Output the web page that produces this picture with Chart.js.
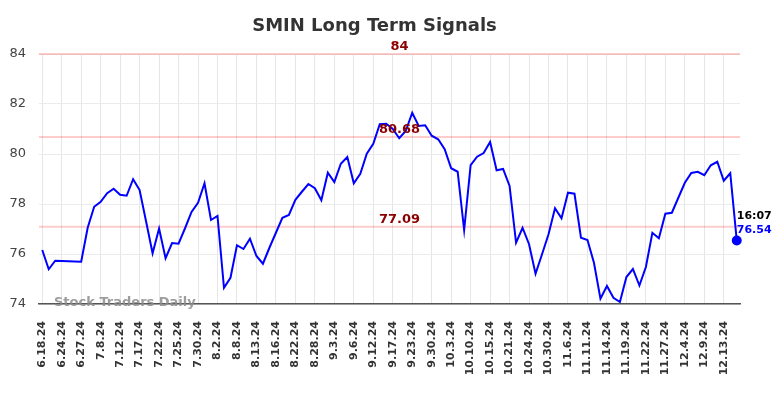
<!DOCTYPE html>
<html>
<head>
<meta charset="utf-8">
<title>SMIN Long Term Signals</title>
<script src="https://cdn.jsdelivr.net/npm/chart.js"></script>
<style>
body { margin: 0; background: #ffffff; }
#chart-wrap { width: 784px; height: 398px; position: relative; }
</style>
</head>
<body>
<div id="chart-wrap"><canvas id="signals-chart"></canvas></div>
<script>
// SMIN long term signals - daily closes with signal levels

const tickLabels = [
    '6.18.24', '6.24.24', '6.27.24', '7.8.24', '7.12.24', '7.17.24', '7.22.24', '7.25.24', '7.30.24',
    '8.2.24', '8.8.24', '8.13.24', '8.16.24', '8.22.24', '8.28.24', '9.3.24', '9.6.24', '9.12.24',
    '9.17.24', '9.23.24', '9.30.24', '10.3.24', '10.10.24', '10.15.24', '10.21.24', '10.24.24', '10.30.24',
    '11.6.24', '11.11.24', '11.14.24', '11.19.24', '11.22.24', '11.27.24', '12.4.24', '12.9.24', '12.13.24'
];

const closes = [
    76.16, 75.39, 75.73, 75.72, 75.71, 75.70, 75.69, 77.05, 77.89, 78.09,
    78.43, 78.61, 78.37, 78.33, 78.99, 78.56, 77.30, 76.03, 77.02, 75.83,
    76.44, 76.41, 77.03, 77.68, 78.05, 78.83, 77.36, 77.52, 74.65, 75.05,
    76.35, 76.20, 76.61, 75.92, 75.61, 76.25, 76.85, 77.45, 77.56, 78.17,
    78.49, 78.80, 78.63, 78.15, 79.25, 78.88, 79.61, 79.88, 78.83, 79.21,
    80.01, 80.41, 81.19, 81.21, 81.00, 80.63, 80.92, 81.65, 81.12, 81.15,
    80.73, 80.59, 80.19, 79.43, 79.29, 76.96, 79.55, 79.89, 80.04, 80.48,
    79.35, 79.40, 78.72, 76.45, 77.05, 76.39, 75.21, 75.99, 76.79, 77.83,
    77.43, 78.45, 78.41, 76.65, 76.56, 75.65, 74.21, 74.72, 74.25, 74.08,
    75.08, 75.40, 74.74, 75.48, 76.85, 76.63, 77.61, 77.65, 78.25, 78.85,
    79.24, 79.29, 79.15, 79.55, 79.69, 78.93, 79.23, 76.54
];

const signalLevels = [84, 80.68, 77.09];
const lastTime = '16:07';

// every third day gets a date label
const labels = closes.map((_, i) => (i % 3 === 0 ? tickLabels[i / 3] : ''));
const lastIndex = closes.length - 1;

Chart.defaults.font.family = "'DejaVu Sans', sans-serif";

const signalsPlugin = {
    id: 'signals',
    beforeDatasetsDraw(chart) {
        const { ctx, chartArea, scales } = chart;
        ctx.save();
        ctx.strokeStyle = 'rgba(255, 0, 0, 0.2)';
        ctx.lineWidth = 2;
        signalLevels.forEach(level => {
            const py = scales.y.getPixelForValue(level);
            ctx.beginPath();
            ctx.moveTo(chartArea.left, py);
            ctx.lineTo(chartArea.right, py);
            ctx.stroke();
        });
        ctx.restore();
    },
    afterDatasetsDraw(chart) {
        const { ctx, chartArea, scales } = chart;
        const midX = (chartArea.left + chartArea.right) / 2;
        ctx.save();

        // level labels
        ctx.font = "bold 13px 'DejaVu Sans'";
        ctx.fillStyle = '#8b0000';
        ctx.textAlign = 'center';
        ctx.textBaseline = 'middle';
        signalLevels.forEach(level => {
            ctx.fillText(String(level), midX + 10, scales.y.getPixelForValue(level) - 7.5);
        });

        // last price annotation
        const px = scales.x.getPixelForValue(lastIndex);
        const py = scales.y.getPixelForValue(closes[lastIndex]);
        ctx.font = "bold 11px 'DejaVu Sans'";
        ctx.textAlign = 'left';
        ctx.fillStyle = '#000000';
        ctx.fillText(lastTime, px, py - 24);
        ctx.fillStyle = '#0000ff';
        ctx.fillText(closes[lastIndex].toFixed(2), px, py - 10);

        // watermark
        ctx.font = "bold 13px 'DejaVu Sans'";
        ctx.fillStyle = 'rgba(140, 140, 140, 0.85)';
        ctx.fillText('Stock Traders Daily', chartArea.left + 15, chartArea.bottom - 1);

        // title
        ctx.font = "bold 18px 'DejaVu Sans'";
        ctx.fillStyle = '#333333';
        ctx.textAlign = 'center';
        ctx.fillText('SMIN Long Term Signals', midX - 15, 26);
        ctx.restore();
    }
};

const chart = new Chart(document.getElementById('signals-chart'), {
    type: 'line',
    data: {
        labels: labels,
        datasets: [{
            data: closes,
            borderColor: '#0000ff',
            backgroundColor: '#0000ff',
            borderWidth: 2,
            tension: 0,
            pointRadius: ctx => (ctx.dataIndex === lastIndex ? 4 : 0),
            pointHoverRadius: 0,
            fill: false
        }]
    },
    options: {
        responsive: true,
        maintainAspectRatio: false,
        animation: false,
        layout: {
            padding: { top: 54, right: 44, bottom: 0, left: 0 }
        },
        plugins: {
            legend: { display: false },
            title: { display: false },
            tooltip: { enabled: false }
        },
        scales: {
            x: {
                offset: true,
                afterFit: scale => { scale.height = 94; },
                grid: {
                    color: ctx => (ctx.index % 3 === 0 ? '#e6e6e6' : 'rgba(0,0,0,0)'),
                    drawTicks: false
                },
                border: { color: '#555555', width: 1.5 },
                ticks: {
                    autoSkip: false,
                    minRotation: 90,
                    maxRotation: 90,
                    padding: 17,
                    color: '#333333',
                    font: { size: 11, weight: 'bold' }
                }
            },
            y: {
                min: 74,
                max: 84,
                afterFit: scale => { scale.width = 39; },
                grid: { color: '#ebebeb', drawTicks: false },
                border: { display: false },
                ticks: {
                    stepSize: 2,
                    padding: 13,
                    color: '#444444',
                    font: { size: 13 }
                }
            }
        }
    },
    plugins: [signalsPlugin]
});
</script>
</body>
</html>
